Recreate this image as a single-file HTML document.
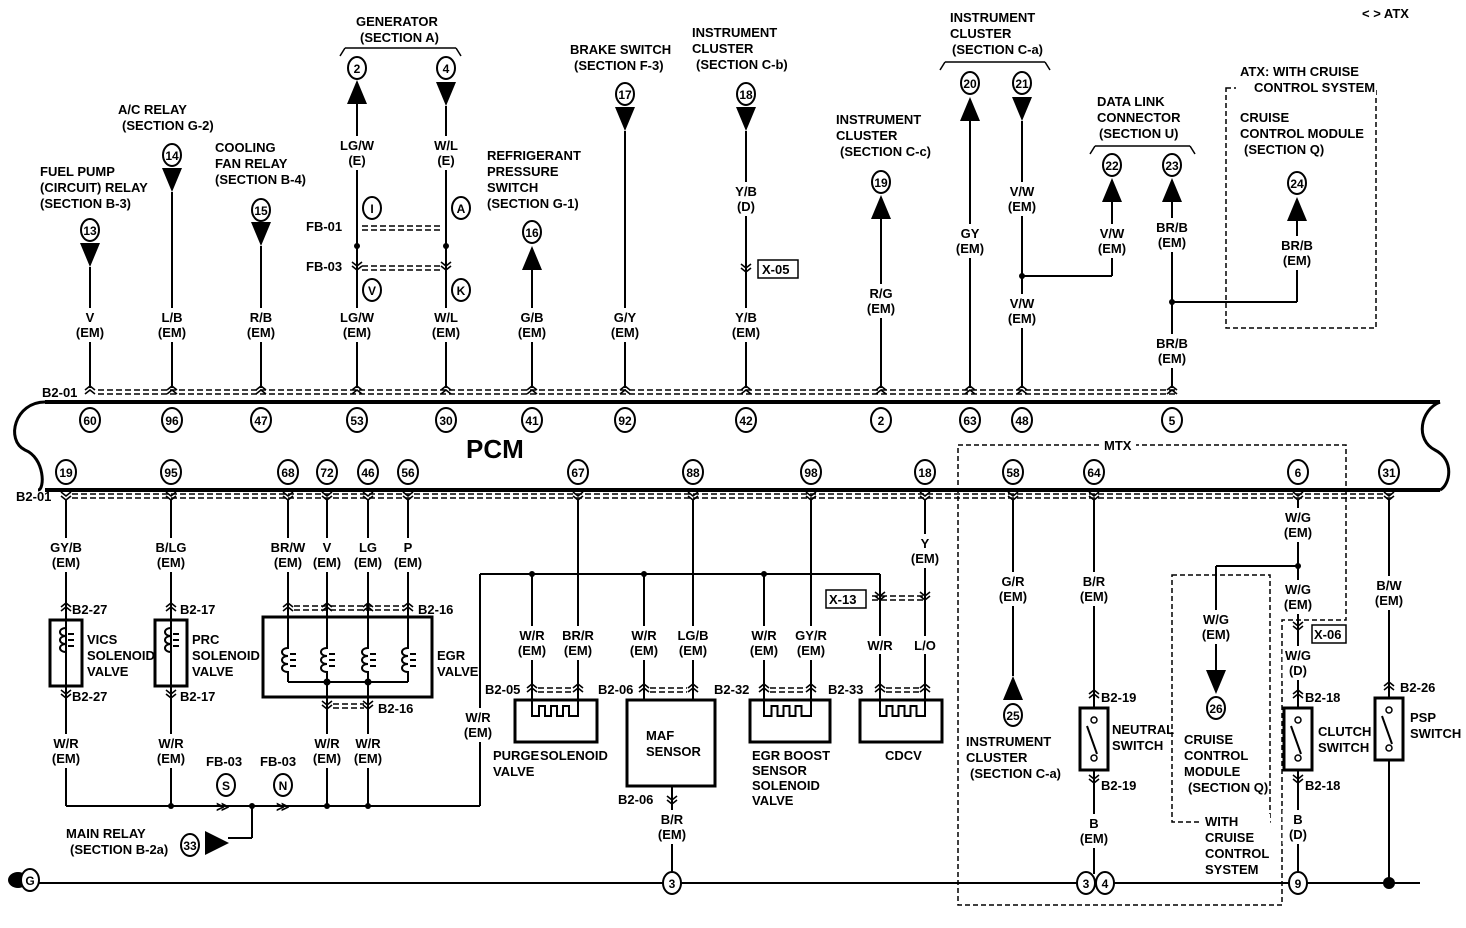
<!DOCTYPE html>
<html><head><meta charset="utf-8"><style>
html,body{margin:0;padding:0;background:#fff;}
svg{display:block}
text{font-family:"Liberation Sans",sans-serif;font-weight:bold;font-size:13px;fill:#000}
</style></head><body>
<svg id="s" width="1466" height="928" viewBox="0 0 1466 928" xmlns="http://www.w3.org/2000/svg"></svg>
<script>
(function(){
var S=document.getElementById('s');var h='';
function t(x,y,s,a){h+='<text x="'+x+'" y="'+y+'"'+(a?' text-anchor="'+a+'"':'')+'>'+s+'</text>';}
function L(x1,y1,x2,y2,w){h+='<line x1="'+x1+'" y1="'+y1+'" x2="'+x2+'" y2="'+y2+'" stroke="#000" stroke-width="'+(w||2)+'"/>';}
function C(x,y,s,r){r=r||9;h+='<ellipse cx="'+x+'" cy="'+y+'" rx="'+r+'" ry="'+(r+2)+'" fill="#fff" stroke="#000" stroke-width="2"/><text x="'+x+'" y="'+(y+5)+'" text-anchor="middle" style="font-size:12px">'+s+'</text>';}
function triU(x,y){h+='<polygon points="'+x+','+y+' '+(x-10)+','+(y+24)+' '+(x+10)+','+(y+24)+'" fill="#000"/>';}
function triD(x,y){h+='<polygon points="'+(x-10)+','+y+' '+(x+10)+','+y+' '+x+','+(y+24)+'" fill="#000"/>';}
function triR(x,y){h+='<polygon points="'+x+','+(y-12)+' '+(x+24)+','+y+' '+x+','+(y+12)+'" fill="#000"/>';}
function chU(x,y){h+='<path d="M'+(x-5)+','+(y+4)+'L'+x+','+y+'L'+(x+5)+','+(y+4)+'M'+(x-5)+','+(y+8)+'L'+x+','+(y+4)+'L'+(x+5)+','+(y+8)+'" fill="none" stroke="#000" stroke-width="1.6"/>';}
function chD(x,y){h+='<path d="M'+(x-5)+','+y+'L'+x+','+(y+4)+'L'+(x+5)+','+y+'M'+(x-5)+','+(y+4)+'L'+x+','+(y+8)+'L'+(x+5)+','+(y+4)+'" fill="none" stroke="#000" stroke-width="1.6"/>';}
function dash(x1,x2,y){h+='<line x1="'+x1+'" y1="'+(y-2)+'" x2="'+x2+'" y2="'+(y-2)+'" stroke="#000" stroke-width="1.5" stroke-dasharray="6,3"/><line x1="'+x1+'" y1="'+(y+2)+'" x2="'+x2+'" y2="'+(y+2)+'" stroke="#000" stroke-width="1.5" stroke-dasharray="6,3"/>';}
function W(x,y,a,b){var w=Math.max(a.length,b.length)*9+4;h+='<rect x="'+(x-w/2)+'" y="'+(y-14)+'" width="'+w+'" height="'+(b?34:18)+'" fill="#fff"/>';t(x,y,a,'middle');if(b)t(x,y+15,b,'middle');}
function box(x,y,w,hh,sw){h+='<rect x="'+x+'" y="'+y+'" width="'+w+'" height="'+hh+'" fill="none" stroke="#000" stroke-width="'+(sw||2)+'"/>';}
function dbox(x,y,w,hh){h+='<rect x="'+x+'" y="'+y+'" width="'+w+'" height="'+hh+'" fill="none" stroke="#000" stroke-width="1.5" stroke-dasharray="5,3"/>';}
function coil(x,y){h+='<path d="M'+x+','+y+' v8 c-8,0 -8,8 0,8 c-8,0 -8,8 0,8 c-8,0 -8,8 0,8 v10" fill="none" stroke="#000" stroke-width="2"/><path d="M'+(x+2)+','+(y+14)+'h6M'+(x+2)+','+(y+20)+'h6M'+(x+2)+','+(y+26)+'h6" stroke="#000" stroke-width="2"/>';}
function heat(x,y,w){h+='<path d="M'+x+','+y+' v16 h'+(w/2-16)+' v-10 h6 v10 h6 v-10 h6 v10 h6 v-10 h6 v10 h'+(w/2-14)+' v-16" fill="none" stroke="#000" stroke-width="2"/>';}
function swc(x,y){box(x-14,y,28,62,3);h+='<circle cx="'+x+'" cy="'+(y+12)+'" r="3" fill="none" stroke="#000" stroke-width="1.5"/><circle cx="'+x+'" cy="'+(y+50)+'" r="3" fill="none" stroke="#000" stroke-width="1.5"/><line x1="'+(x-7)+'" y1="'+(y+18)+'" x2="'+(x+3)+'" y2="'+(y+46)+'" stroke="#000" stroke-width="2"/>';}
function dot(x,y,r){h+='<circle cx="'+x+'" cy="'+y+'" r="'+(r||3)+'"/>';}

h+='<path d="M45,402 H1440 M45,490 H1440" stroke="#000" stroke-width="4" fill="none"/>';
h+='<path d="M45,402 C15,402 5,440 25,450 C45,458 45,490 38,490" stroke="#000" stroke-width="3" fill="none"/>';
h+='<path d="M1440,402 C1420,410 1415,440 1435,450 C1455,460 1450,485 1440,490" stroke="#000" stroke-width="3" fill="none"/>';
h+='<text x="466" y="458" style="font-size:26px">PCM</text>';
t(1362,18,'&lt; &gt; ATX');
dash(98,1175,392);t(42,397,'B2-01');
var topPins=[[90,'60'],[172,'96'],[261,'47'],[357,'53'],[446,'30'],[532,'41'],[625,'92'],[746,'42'],[881,'2'],[970,'63'],[1022,'48'],[1172,'5']];
topPins.forEach(function(p){chU(p[0],386);C(p[0],420,p[1],10);});
C(90,230,'13');triD(90,243);L(90,267,90,388);W(90,322,'V','(EM)');
t(40,176,'FUEL PUMP');t(40,192,'(CIRCUIT) RELAY');t(40,208,'(SECTION B-3)');
C(172,155,'14');triD(172,168);L(172,192,172,388);W(172,322,'L/B','(EM)');
t(118,114,'A/C RELAY');t(122,130,'(SECTION G-2)');
C(261,210,'15');triD(261,222);L(261,246,261,388);W(261,322,'R/B','(EM)');
t(215,152,'COOLING');t(215,168,'FAN RELAY');t(215,184,'(SECTION B-4)');
t(356,26,'GENERATOR');t(360,42,'(SECTION A)');L(345,48,456,48,1.5);L(345,48,340,56,1.5);L(456,48,461,56,1.5);
C(357,68,'2');triU(357,80);L(357,104,357,388);W(357,150,'LG/W','(E)');
C(446,68,'4');triD(446,82);L(446,106,446,388);W(446,150,'W/L','(E)');
C(372,208,'I');C(461,208,'A');C(372,290,'V');C(461,290,'K');
t(306,231,'FB-01');dash(362,442,228);dot(357,246);dot(446,246);
t(306,271,'FB-03');dash(362,442,268);chD(357,262);chD(446,262);
W(357,322,'LG/W','(EM)');W(446,322,'W/L','(EM)');
C(532,232,'16');triU(532,246);L(532,270,532,388);W(532,322,'G/B','(EM)');
t(487,160,'REFRIGERANT');t(487,176,'PRESSURE');t(487,192,'SWITCH');t(487,208,'(SECTION G-1)');
C(625,94,'17');triD(625,107);L(625,131,625,388);W(625,322,'G/Y','(EM)');
t(570,54,'BRAKE SWITCH');t(574,70,'(SECTION F-3)');
C(746,94,'18');triD(746,107);L(746,131,746,388);W(746,196,'Y/B','(D)');chD(746,264);box(758,260,40,18,1.5);t(762,274,'X-05');W(746,322,'Y/B','(EM)');
t(692,37,'INSTRUMENT');t(692,53,'CLUSTER');t(696,69,'(SECTION C-b)');
C(881,182,'19');triU(881,195);L(881,219,881,388);W(881,298,'R/G','(EM)');
t(836,124,'INSTRUMENT');t(836,140,'CLUSTER');t(840,156,'(SECTION C-c)');
t(950,22,'INSTRUMENT');t(950,38,'CLUSTER');t(952,54,'(SECTION C-a)');L(945,62,1045,62,1.5);L(945,62,940,70,1.5);L(1045,62,1050,70,1.5);
C(970,83,'20');triU(970,97);L(970,121,970,388);W(970,238,'GY','(EM)');
C(1022,83,'21');triD(1022,97);L(1022,121,1022,388);W(1022,196,'V/W','(EM)');W(1022,308,'V/W','(EM)');
dot(1022,276);L(1022,276,1112,276);L(1112,202,1112,276);
C(1112,165,'22');triU(1112,178);W(1112,238,'V/W','(EM)');
C(1172,165,'23');triU(1172,178);L(1172,202,1172,388);W(1172,232,'BR/B','(EM)');W(1172,348,'BR/B','(EM)');
dot(1172,302);L(1172,302,1297,302);L(1297,221,1297,302);
t(1097,106,'DATA LINK');t(1097,122,'CONNECTOR');t(1099,138,'(SECTION U)');L(1095,146,1190,146,1.5);L(1095,146,1090,154,1.5);L(1190,146,1195,154,1.5);
dbox(1226,88,150,240);h+='<rect x="1236" y="62" width="140" height="34" fill="#fff"/>';t(1240,76,'ATX: WITH CRUISE');t(1254,92,'CONTROL SYSTEM');
t(1240,122,'CRUISE');t(1240,138,'CONTROL MODULE');t(1244,154,'(SECTION Q)');
C(1297,183,'24');triU(1297,197);W(1297,250,'BR/B','(EM)');
dash(72,1395,496);t(16,501,'B2-01');
var botPins=[[66,'19'],[171,'95'],[288,'68'],[327,'72'],[368,'46'],[408,'56'],[578,'67'],[693,'88'],[811,'98'],[925,'18'],[1013,'58'],[1094,'64'],[1298,'6'],[1389,'31']];
botPins.forEach(function(p){C(p[0],472,p[1],10);chD(p[0],492);});
L(66,500,66,806);W(66,552,'GY/B','(EM)');chU(66,603);t(72,614,'B2-27');box(50,620,32,66,3);coil(66,620);t(87,644,'VICS');t(87,660,'SOLENOID');t(87,676,'VALVE');chD(66,690);t(72,701,'B2-27');W(66,748,'W/R','(EM)');
L(171,500,171,806);W(171,552,'B/LG','(EM)');chU(171,603);t(180,614,'B2-17');box(155,620,32,66,3);coil(171,620);t(192,644,'PRC');t(192,660,'SOLENOID');t(192,676,'VALVE');chD(171,690);t(180,701,'B2-17');W(171,748,'W/R','(EM)');
box(263,617,169,80,3);
[[288,'BR/W'],[327,'V'],[368,'LG'],[408,'P']].forEach(function(p){var x=p[0];L(x,500,x,640);W(x,552,p[1],'(EM)');chU(x,603);coil(x,640);});
dash(294,404,608);t(418,614,'B2-16');t(437,660,'EGR');t(437,676,'VALVE');
L(288,682,408,682);dot(327,682,3.5);dot(368,682,3.5);
L(327,682,327,806);L(368,682,368,806);chD(327,701);chD(368,701);dash(333,364,706);t(378,713,'B2-16');
W(327,748,'W/R','(EM)');W(368,748,'W/R','(EM)');
L(66,806,480,806);[171,252,327,368].forEach(function(x){dot(x,806);});
t(206,766,'FB-03');C(226,785,'S');t(260,766,'FB-03');C(283,785,'N');
t(216,811,'≫');t(276,811,'≫');
L(252,806,252,838);L(252,838,228,838);triR(205,843);C(190,845,'33');
t(66,838,'MAIN RELAY');t(70,854,'(SECTION B-2a)');
L(480,806,480,574);L(480,574,880,574);[532,644,764].forEach(function(x){dot(x,574);});W(478,722,'W/R','(EM)');
L(532,574,532,700);L(578,500,578,700);W(532,640,'W/R','(EM)');W(578,640,'BR/R','(EM)');chU(532,684);chU(578,684);dash(538,572,690);t(485,694,'B2-05');
box(515,700,82,42,3);heat(532,700,46);t(493,760,'PURGE');t(540,760,'SOLENOID');t(493,776,'VALVE');
L(644,574,644,700);L(693,500,693,700);W(644,640,'W/R','(EM)');W(693,640,'LG/B','(EM)');chU(644,684);chU(693,684);dash(650,687,690);t(598,694,'B2-06');
box(627,700,88,86,3);t(646,740,'MAF');t(646,756,'SENSOR');L(672,786,672,874);chD(672,796);t(618,804,'B2-06');W(672,824,'B/R','(EM)');
L(764,574,764,700);L(811,500,811,700);W(764,640,'W/R','(EM)');W(811,640,'GY/R','(EM)');chU(764,684);chU(811,684);dash(770,805,690);t(714,694,'B2-32');
box(750,700,80,42,3);heat(764,700,47);t(752,760,'EGR BOOST');t(752,775,'SENSOR');t(752,790,'SOLENOID');t(752,805,'VALVE');
L(880,574,880,700);L(925,500,925,700);W(925,548,'Y','(EM)');chD(880,592);chD(925,592);dash(872,925,598);box(826,590,40,18,1.5);t(829,604,'X-13');
W(880,650,'W/R','');W(925,650,'L/O','');chU(880,684);chU(925,684);dash(886,919,690);t(828,694,'B2-33');
box(860,700,82,42,3);heat(880,700,45);t(885,760,'CDCV');
h+='<path d="M958,445 H1346 V620 H1282 V905 H958 Z" fill="none" stroke="#000" stroke-width="1.5" stroke-dasharray="5,3"/>';
h+='<rect x="1100" y="438" width="36" height="14" fill="#fff"/>';t(1104,450,'MTX');
L(1013,500,1013,676);W(1013,586,'G/R','(EM)');triU(1013,676);C(1013,715,'25');
t(966,746,'INSTRUMENT');t(966,762,'CLUSTER');t(970,778,'(SECTION C-a)');
L(1094,500,1094,708);W(1094,586,'B/R','(EM)');chU(1094,690);t(1101,702,'B2-19');swc(1094,708);t(1112,734,'NEUTRAL');t(1112,750,'SWITCH');
chD(1094,775);t(1101,790,'B2-19');L(1094,770,1094,874);W(1094,828,'B','(EM)');
L(1298,500,1298,708);W(1298,522,'W/G','(EM)');dot(1298,566);L(1216,566,1298,566);L(1216,566,1216,670);
dbox(1172,575,98,247);W(1216,624,'W/G','(EM)');triD(1216,670);C(1216,708,'26');
t(1184,744,'CRUISE');t(1184,760,'CONTROL');t(1184,776,'MODULE');t(1188,792,'(SECTION Q)');
h+='<rect x="1200" y="814" width="70" height="64" fill="#fff"/>';
t(1205,826,'WITH');t(1205,842,'CRUISE');t(1205,858,'CONTROL');t(1205,874,'SYSTEM');
W(1298,594,'W/G','(EM)');chD(1298,622);box(1312,625,34,18,1.5);t(1314,639,'X-06');W(1298,660,'W/G','(D)');
chU(1298,690);t(1305,702,'B2-18');swc(1298,708);t(1318,736,'CLUTCH');t(1318,752,'SWITCH');chD(1298,775);t(1305,790,'B2-18');
L(1298,770,1298,874);W(1298,824,'B','(D)');
L(1389,500,1389,698);W(1389,590,'B/W','(EM)');chU(1389,682);t(1400,692,'B2-26');swc(1389,698);t(1410,722,'PSP');t(1410,738,'SWITCH');L(1389,760,1389,883);
L(30,883,1420,883,2);dot(1389,883,6);
C(672,883,'3');C(1086,883,'3');C(1105,883,'4');C(1298,883,'9');
h+='<ellipse cx="18" cy="880" rx="10" ry="8" fill="#000"/>';C(30,880,'G');
S.innerHTML=h;
})();
</script>
</body></html>
